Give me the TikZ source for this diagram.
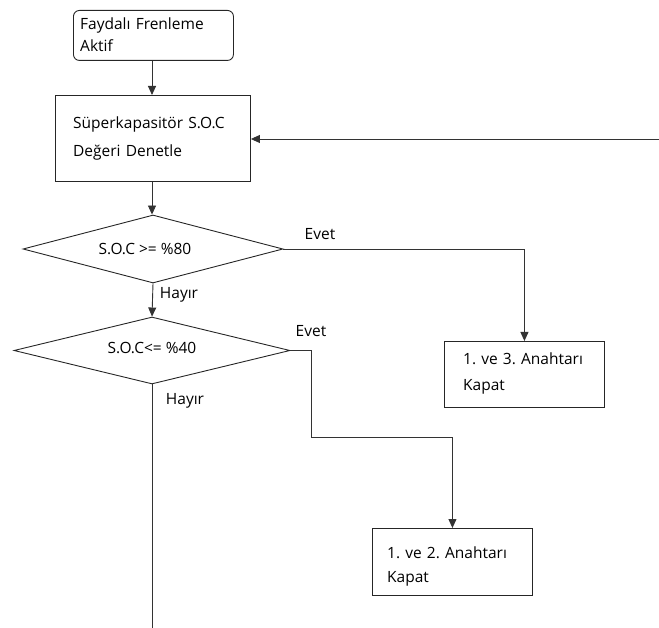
\documentclass[tikz,border=0pt]{standalone}
\usepackage{fontspec}
\setmainfont{Open Sans}
\usepackage{tikz}
\usetikzlibrary{arrows.meta, calc, positioning, shapes}
\tikzset{
    akis/.style={draw=black!80, line width=0.9pt, -{Triangle[width=8pt,length=9pt]}},
    kutu/.style={draw=black!85, line width=0.9pt, anchor=north west, inner sep=0pt},
    karar/.style={draw=black!85, line width=0.9pt, diamond, inner sep=0pt},
    etiket/.style={anchor=center, inner sep=0pt}
}

\begin{document}
\frenchspacing
\begin{tikzpicture}[x=1pt, y=-1pt, font=\fontsize{15.5}{18}\selectfont]
\tikzset{
    metin/.style={text width=#1, align=left, anchor=base west, inner sep=0pt}
}
  \useasboundingbox (0,0) rectangle (659,628);
  % kutular
  \node[kutu, rounded corners=6pt, minimum width=160pt, minimum height=50pt] (basla) at (73,10) {};
  \node[metin=150pt, font=\fontsize{15.5}{22}\selectfont] (basla-y) at (80,30) {Faydalı Frenleme\\Aktif};
  \node[kutu, minimum width=195pt, minimum height=86pt] (denetle) at (55,95) {};
  \node[metin=175pt, font=\fontsize{15.5}{28}\selectfont] (denetle-y) at (73,129) {Süperkapasitör S.O.C\\Değeri Denetle};
  \node[karar, minimum width=260pt, minimum height=68pt] (soc80) at (153,249) {};
  \node[etiket] (soc80-y) at (145,249) {S.O.C >= \%80};
  \node[karar, minimum width=276pt, minimum height=67pt] (soc40) at (152,350.5) {};
  \node[etiket] (soc40-y) at (152,348) {S.O.C<= \%40};
  \node[kutu, minimum width=160pt, minimum height=66pt] (anahtar13) at (444,341) {};
  \node[metin=140pt, font=\fontsize{15.5}{26}\selectfont] (anahtar13-y) at (463,365) {1. ve 3. Anahtarı\\Kapat};
  \node[kutu, minimum width=160pt, minimum height=67pt] (anahtar12) at (372,528) {};
  \node[metin=140pt, font=\fontsize{15.5}{24}\selectfont] (anahtar12-y) at (387,558) {1. ve 2. Anahtarı\\Kapat};
  % etiketler
  \node[etiket] (evet1) at (320,234) {Evet};
  \node[etiket] (hayir1) at (179,295) {Hayır};
  \node[etiket] (evet2) at (311,331) {Evet};
  \node[etiket] (hayir2) at (185,401) {Hayır};
  % baglantilar
  \coordinate (geri) at (659,139);
  \coordinate (kirik) at (311,437);
  \coordinate (son) at (152,628);
  \draw[akis] (basla.south -| 152,0) -- (denetle.north -| 152,0);
  \draw[akis] (geri) -- (denetle.east |- geri);
  \draw[akis] (denetle.south -| 152,0) -- (soc80.north -| 152,0);
  \draw[akis] (soc80.east) -| (anahtar13.north);
  \draw[akis] (soc80.south) -- (soc40.north);
  \draw[akis] (soc40.east) -| (kirik) -| (anahtar12.north);
  \draw[draw=black!80, line width=0.9pt] (soc40.south) -- (son);
\end{tikzpicture}
\end{document}
